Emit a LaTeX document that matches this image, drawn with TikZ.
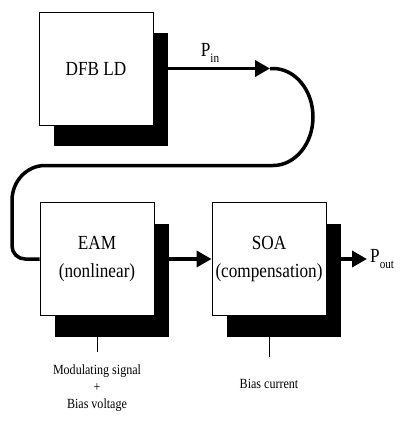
\documentclass[tikz,border=0pt]{standalone}
\usepackage{fontspec}
\setmainfont{Liberation Serif}[FakeStretch=0.86]
\usetikzlibrary{arrows.meta,shadows}

\newcommand{\powlab}[1]{P\raisebox{-6pt}{\fontsize{13}{13}\selectfont #1}}

\tikzset{
  blk/.style={draw, line width=0.9pt, fill=white, minimum width=114pt, minimum height=113pt,
    align=center, font=\fontsize{20}{28}\selectfont,
    drop shadow={shadow xshift=14.5pt, shadow yshift=-21pt, fill=black, opacity=1}},
  fibre/.style={line width=3.5pt},
  head/.style={-{Triangle[length=15pt,width=16pt]}},
  feed/.style={line width=0.9pt},
  lbl/.style={align=center, font=\fontsize{14}{17}\selectfont},
  plbl/.style={font=\fontsize{20}{24}\selectfont, inner sep=0pt}
}

\begin{document}
\begin{tikzpicture}[x=1pt,y=-1pt]
\useasboundingbox (0,0) rectangle (404,423);
% blocks
\node[blk] (dfb) at (96,68.5) {DFB LD};
\node[blk] (eam) at (97,259) {EAM\\(nonlinear)};
\node[blk] (soa) at (269,259) {SOA\\(compensation)};

% fibre from laser, loop down to the modulator
\coordinate (pin) at (270,68.5);
\draw[fibre,head] ([xshift=14.5pt]dfb.east) -- (pin);
\node[plbl] (pinlbl) at (210,53) {\powlab{in}};
\draw[fibre] (pin) -- ++(3,0) arc[start angle=-90,end angle=90,x radius=40,y radius=48.5]
  -- (45,165.5) arc[start angle=-90,end angle=-180,x radius=33,y radius=35]
  -- (12,246) arc[start angle=180,end angle=90,radius=13] -- (eam.west);

% modulator -> amplifier -> output
\draw[fibre,head] ([xshift=14.5pt]eam.east) -- (soa.west);
\coordinate (pout) at (367,259);
\draw[fibre,head] ([xshift=14.5pt]soa.east) -- (pout);
\node[plbl,anchor=west] (poutlbl) at ([xshift=3pt]pout) {\powlab{out}};

% electrical inputs
\coordinate (modin) at (97,352);
\coordinate (biasin) at (269,357);
\draw[feed] ([yshift=-21pt]eam.south) -- (modin);
\draw[feed] ([yshift=-21pt]soa.south) -- (biasin);
\node[lbl] (modlbl) at (97,388) {Modulating signal\\+\\Bias voltage};
\node[lbl] (biaslbl) at (269,384) {Bias current};
\end{tikzpicture}
\end{document}
